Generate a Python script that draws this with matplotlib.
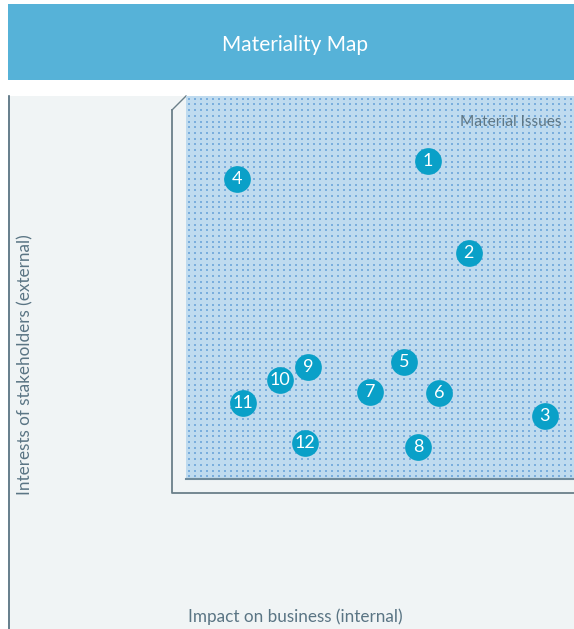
import numpy as np
import matplotlib.pyplot as plt
from matplotlib.patches import Rectangle
from matplotlib.lines import Line2D

# issue numbers and their position on the map (0-10 scale)
issues = ["1", "2", "3", "4", "5", "6", "7", "8", "9", "10", "11", "12"]
impact = [6.24, 7.29, 9.25, 1.31, 5.62, 6.52, 4.74, 5.98, 3.14, 2.42, 1.47, 3.07]
interest = [8.30, 5.90, 1.64, 7.83, 3.05, 2.25, 2.27, 0.84, 2.92, 2.58, 1.98, 0.94]

title = "Materiality Map"
xlabel = "Impact on business (internal)"
ylabel = "Interests of stakeholders (external)"
zone_label = "Material Issues"

W, H = 574, 629
plt.rcParams['font.family'] = ['Lato', 'DejaVu Sans']

fig = plt.figure(figsize=(W / 100, H / 100), dpi=100)
fig.patch.set_facecolor("white")


def fx(px):
    return px / W


def fy(py):
    return 1 - py / H


# header banner
fig.patches.append(Rectangle((fx(8), fy(80)), fx(W - 8), 76 / H,
                             transform=fig.transFigure, facecolor="#56b2d8",
                             edgecolor="none", zorder=-2))
fig.text(fx(295), fy(45), title, color="white", fontsize=15,
         ha="center", va="center")

# grey panel with left border
fig.patches.append(Rectangle((fx(8), 0), fx(W - 8), fy(96),
                             transform=fig.transFigure, facecolor="#f0f4f5",
                             edgecolor="none", zorder=-2))
fig.lines.append(Line2D([fx(8.5), fx(8.5)], [0, fy(96)], transform=fig.transFigure,
                        color="#4f6b7a", lw=1.2, zorder=-1))

# 3d frame behind the map
frame_col = "#6b7f89"
fig.lines.append(Line2D([fx(172), fx(172), fx(W)], [fy(110), fy(493), fy(493)],
                        transform=fig.transFigure, color=frame_col, lw=1.3, zorder=-1))
fig.lines.append(Line2D([fx(172), fx(186)], [fy(110), fy(96)],
                        transform=fig.transFigure, color=frame_col, lw=1.0, zorder=-1))

# map area
ax = fig.add_axes([fx(186), fy(479), fx(W - 186), 383 / H])
ax.set_zorder(2)
ax.set_xlim(0, 10)
ax.set_ylim(0, 10)
ax.set_facecolor("#bfdbef")
for s in ["top", "left", "right"]:
    ax.spines[s].set_visible(False)
ax.spines["bottom"].set_color("#6f8b9c")
ax.spines["bottom"].set_linewidth(1.5)
ax.set_xticks([])
ax.set_yticks([])

# dotted texture
gx, gy = np.meshgrid(np.linspace(0.07, 9.93, 65), np.linspace(0.07, 9.93, 67))
ax.scatter(gx.ravel(), gy.ravel(), s=2.6, marker="s", color="#7aaedd",
           linewidths=0, zorder=1)

ax.text(9.69, 9.32, zone_label, color="#5f7785", fontsize=11.2,
        ha="right", va="center", zorder=2)

ax.scatter(impact, interest, s=370, color="#0aa0c8", linewidths=0,
           zorder=3, clip_on=False)
for lab, x, y in zip(issues, impact, interest):
    ax.text(x, y, lab, color="white", fontsize=13, ha="center",
            va="center", zorder=4)

# axis labels
fig.text(fx(295), fy(617), xlabel, color="#5a7584", fontsize=12.3,
         ha="center", va="center")
fig.text(fx(25), fy(365), ylabel, color="#5a7584", fontsize=12.3,
         ha="center", va="center", rotation=90)

fig.savefig("out.png", dpi=100)
